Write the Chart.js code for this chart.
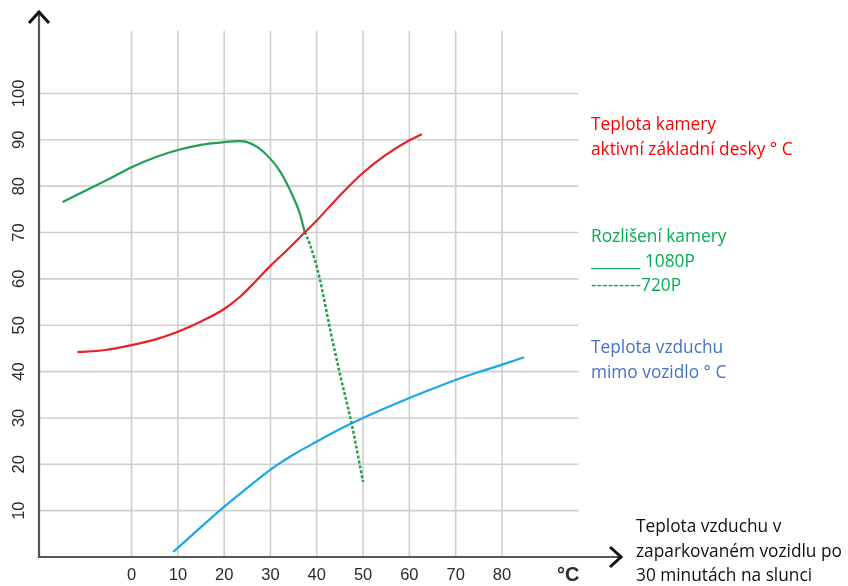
<!DOCTYPE html>
<html>
<head>
<meta charset="utf-8">
<script src="https://cdn.jsdelivr.net/npm/chart.js@4"></script>
<style>
  html, body { margin: 0; padding: 0; background: #fff; }
  #wrap { position: relative; width: 848px; height: 586px; }
  .note { position: absolute; font-family: "Open Sans", sans-serif; font-size: 17.3px; line-height: 24.5px; white-space: nowrap; }
</style>
</head>
<body>
<div id="wrap">
  <canvas id="chart" width="848" height="586"></canvas>
  <div class="note" style="left:591px; top:112px; color:#ff0000;">Teplota kamery<br>aktivní základní desky ° C</div>
  <div class="note" style="left:591px; top:224px; color:#00b050;">Rozlišení kamery<br><span style="text-decoration:underline">&nbsp;&nbsp;&nbsp;&nbsp;&nbsp;&nbsp;&nbsp;&nbsp;&nbsp;&nbsp;&nbsp;</span> 1080P<br>---------720P</div>
  <div class="note" style="left:591px; top:335px; color:#4472c4;">Teplota vzduchu<br>mimo vozidlo ° C</div>
  <div class="note" style="left:636px; top:514px; color:#111;">Teplota vzduchu v<br>zaparkovaném vozidlu po<br>30 minutách na slunci</div>
</div>
<script>
// tick labels
const xTicks = [0, 10, 20, 30, 40, 50, 60, 70, 80];
const yTicks = [10, 20, 30, 40, 50, 60, 70, 80, 90, 100];

// camera board temperature (red)
const boardX = [-11.7, -6, 0, 5, 10, 15, 20, 23.5, 27, 30, 34, 37.5, 40, 45, 50, 55, 60, 62.7];
const boardY = [44.2, 44.6, 45.7, 46.9, 48.6, 50.8, 53.5, 56.2, 59.7, 62.8, 66.6, 70.1, 72.6, 78.0, 82.9, 86.8, 89.9, 91.2];

// camera resolution 1080P (green, solid)
const hdX = [-14.9, -10, -5, 0, 5, 10, 15, 20, 23.5, 25, 27.2, 29.8, 32, 34.2, 36.3, 37.4];
const hdY = [76.6, 79, 81.5, 84.1, 86.2, 87.8, 88.9, 89.5, 89.7, 89.5, 88.4, 86.1, 83.3, 79.2, 74.2, 70.1];

// camera resolution 720P (green, dotted)
const sdX = [37.4, 38.5, 40.6, 42.8, 45, 47.5, 50];
const sdY = [70.1, 67.5, 60.2, 49.5, 39.5, 28.9, 16.2];

// outside air temperature (blue)
const airX = [9, 14.5, 19.7, 25, 29.8, 35, 40, 45, 50, 55, 60, 65, 70, 75, 80, 84.8];
const airY = [1.1, 6, 10.6, 14.9, 18.7, 22.1, 24.9, 27.6, 30, 32.2, 34.3, 36.3, 38.2, 39.9, 41.5, 43.1];

function pts(xs, ys) {
  return xs.map((x, i) => ({ x: x, y: ys[i] }));
}

const gridPlugin = {
  id: 'gridPlugin',
  beforeDatasetsDraw(chart) {
    const ctx = chart.ctx;
    const xs = chart.scales.x;
    const ys = chart.scales.y;
    const area = chart.chartArea;
    const gridRight = xs.getPixelForValue(96.5);
    const gridTop = ys.getPixelForValue(113.5);
    ctx.save();
    ctx.strokeStyle = '#cfcfcf';
    ctx.lineWidth = 1.6;
    xTicks.forEach(v => {
      const px = xs.getPixelForValue(v);
      ctx.beginPath();
      ctx.moveTo(px, gridTop);
      ctx.lineTo(px, area.bottom);
      ctx.stroke();
    });
    yTicks.forEach(v => {
      const py = ys.getPixelForValue(v);
      ctx.beginPath();
      ctx.moveTo(area.left, py);
      ctx.lineTo(gridRight, py);
      ctx.stroke();
    });
    ctx.restore();
  },
  afterDatasetsDraw(chart) {
    const ctx = chart.ctx;
    const xs = chart.scales.x;
    const ys = chart.scales.y;
    const area = chart.chartArea;
    ctx.save();
    // axes
    ctx.strokeStyle = '#555';
    ctx.lineWidth = 2.2;
    ctx.beginPath();
    ctx.moveTo(area.left, area.top + 2);
    ctx.lineTo(area.left, area.bottom);
    ctx.lineTo(area.right, area.bottom);
    ctx.stroke();
    // arrow heads
    ctx.strokeStyle = '#111';
    ctx.lineWidth = 3;
    ctx.beginPath();
    ctx.moveTo(area.left - 10, area.top + 13);
    ctx.lineTo(area.left, area.top + 2);
    ctx.lineTo(area.left + 10, area.top + 13);
    ctx.stroke();
    ctx.beginPath();
    ctx.moveTo(area.right - 10, area.bottom - 10);
    ctx.lineTo(area.right + 1, area.bottom);
    ctx.lineTo(area.right - 10, area.bottom + 10);
    ctx.stroke();
    // tick labels
    ctx.fillStyle = '#2a2a2a';
    ctx.font = '16.5px "Liberation Sans", Arial, sans-serif';
    ctx.textAlign = 'center';
    ctx.textBaseline = 'middle';
    xTicks.forEach(v => {
      ctx.fillText(String(v), xs.getPixelForValue(v), area.bottom + 18);
    });
    ctx.font = 'bold 20px "Liberation Sans", Arial, sans-serif';
    ctx.fillText('°C', xs.getPixelForValue(94.3), area.bottom + 18);
    ctx.font = '16.5px "Liberation Sans", Arial, sans-serif';
    yTicks.forEach(v => {
      ctx.save();
      ctx.translate(19, ys.getPixelForValue(v));
      ctx.rotate(-Math.PI / 2);
      ctx.fillText(String(v), 0, 0);
      ctx.restore();
    });
    ctx.restore();
  }
};

const lineOpts = { showLine: true, pointRadius: 0, cubicInterpolationMode: 'monotone', borderWidth: 2.2 };

new Chart(document.getElementById('chart').getContext('2d'), {
  type: 'scatter',
  data: {
    datasets: [
      Object.assign({ label: 'Teplota kamery', data: pts(boardX, boardY), borderColor: '#e8202a' }, lineOpts),
      Object.assign({ label: '1080P', data: pts(hdX, hdY), borderColor: '#1ea050' }, lineOpts),
      Object.assign({ label: '720P', data: pts(sdX, sdY), borderColor: '#1ea050' }, lineOpts, { borderWidth: 2.5, borderDash: [3, 2] }),
      Object.assign({ label: 'Teplota vzduchu', data: pts(airX, airY), borderColor: '#1ba8e6' }, lineOpts)
    ]
  },
  options: {
    responsive: false,
    animation: false,
    layout: { padding: { left: 39, right: 228, top: 10, bottom: 29 } },
    plugins: { legend: { display: false }, tooltip: { enabled: false } },
    scales: {
      x: { type: 'linear', min: -20, max: 105.5, display: false },
      y: { type: 'linear', min: 0, max: 118, display: false }
    }
  },
  plugins: [gridPlugin]
});
</script>
</body>
</html>
